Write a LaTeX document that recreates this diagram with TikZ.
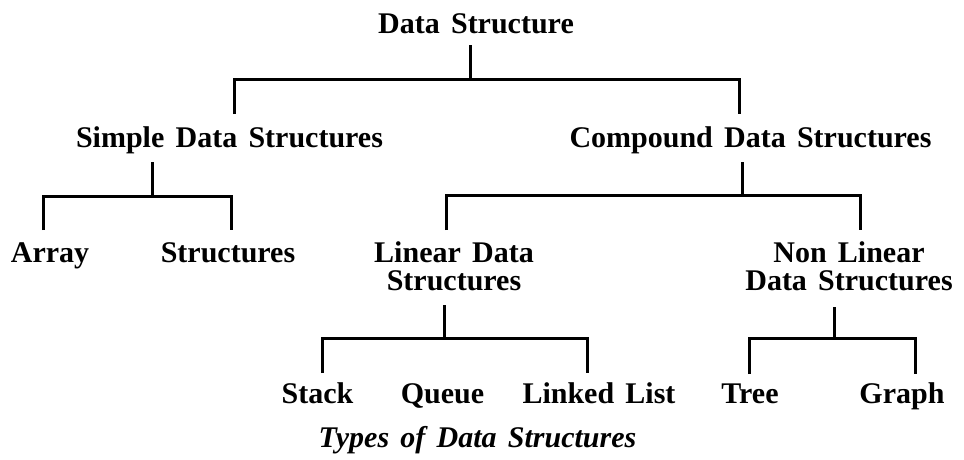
\documentclass[tikz,border=0pt]{standalone}
\usepackage{fontspec}
\setmainfont{Liberation Serif}[WordSpace=1.5]
\usetikzlibrary{calc}
\begin{document}
\begin{tikzpicture}[x=1pt,y=-1pt,
  lbl/.style={font=\bfseries\fontsize{30}{28}\selectfont, anchor=base, inner sep=0pt, align=center},
  captionlbl/.style={font=\bfseries\itshape\fontsize{30}{28}\selectfont, anchor=base, inner sep=0pt},
  link/.style={line width=3pt, line join=miter}]
\useasboundingbox (0,0) rectangle (964,459);

% labels, placed by centre of (last) baseline
\node[lbl] (ds)    at (476,33)    {Data Structure};
\node[lbl] (sds)   at (229.5,147) {Simple Data Structures};
\node[lbl] (cds)   at (750.5,147) {Compound Data Structures};
\node[lbl] (arr)   at (50,262)    {Array};
\node[lbl] (str)   at (228,262)   {Structures};
\node[lbl] (lds)   at (454,290)   {Linear Data\\Structures};
\node[lbl] (nlds)  at (849,290)   {Non Linear\\Data Structures};
\node[lbl] (stk)   at (317.5,403) {Stack};
\node[lbl] (que)   at (442.5,403) {Queue};
\node[lbl] (ll)    at (599,403)   {Linked List};
\node[lbl] (tree)  at (750,403)   {Tree};
\node[lbl] (graph) at (902,403)   {Graph};
\node[captionlbl] (title) at (477.5,447) {Types of Data Structures};

% Data Structure -> Simple / Compound
\coordinate (dsD) at ($(ds.base)+(-6,12)$);
\coordinate (dsJ) at ($(dsD)+(0,34)$);
\draw[link] (dsD) -- (dsJ);
\draw[link] ($(sds.base)+(4.5,-33)$) |- (dsJ) -| ($(cds.base)+(-11.5,-33)$);

% Simple -> Array / Structures
\coordinate (sdsD) at ($(sds.base)+(-77.5,15)$);
\coordinate (sdsJ) at ($(sdsD)+(0,34)$);
\draw[link] (sdsD) -- (sdsJ);
\draw[link] ($(arr.base)+(-7,-32)$) |- (sdsJ) -| ($(str.base)+(3,-32)$);

% Compound -> Linear / Non Linear
\coordinate (cdsD) at ($(cds.base)+(-8.5,15)$);
\coordinate (cdsJ) at ($(cdsD)+(0,33)$);
\draw[link] (cdsD) -- (cdsJ);
\draw[link] ($(lds.base)+(-8,-60)$) |- (cdsJ) -| ($(nlds.base)+(11,-60)$);

% Linear -> Stack / Queue / Linked List
\coordinate (ldsD) at ($(lds.base)+(-10,15)$);
\coordinate (ldsJ) at ($(ldsD)+(0,33)$);
\draw[link] (ldsD) -- (ldsJ);
\draw[link] ($(stk.base)+(4.5,-30)$) |- (ldsJ) -| ($(ll.base)+(-12,-30)$);
\draw[link] ($(que.base)+(6.5,-30)$) -- ($(que.base)+(6.5,-30)$ |- ldsJ);

% Non Linear -> Tree / Graph
\coordinate (nldsD) at ($(nlds.base)+(-15,17)$);
\coordinate (nldsJ) at ($(nldsD)+(0,31)$);
\draw[link] (nldsD) -- (nldsJ);
\draw[link] ($(tree.base)+(-1,-29)$) |- (nldsJ) -| ($(graph.base)+(13,-29)$);
\end{tikzpicture}
\end{document}
